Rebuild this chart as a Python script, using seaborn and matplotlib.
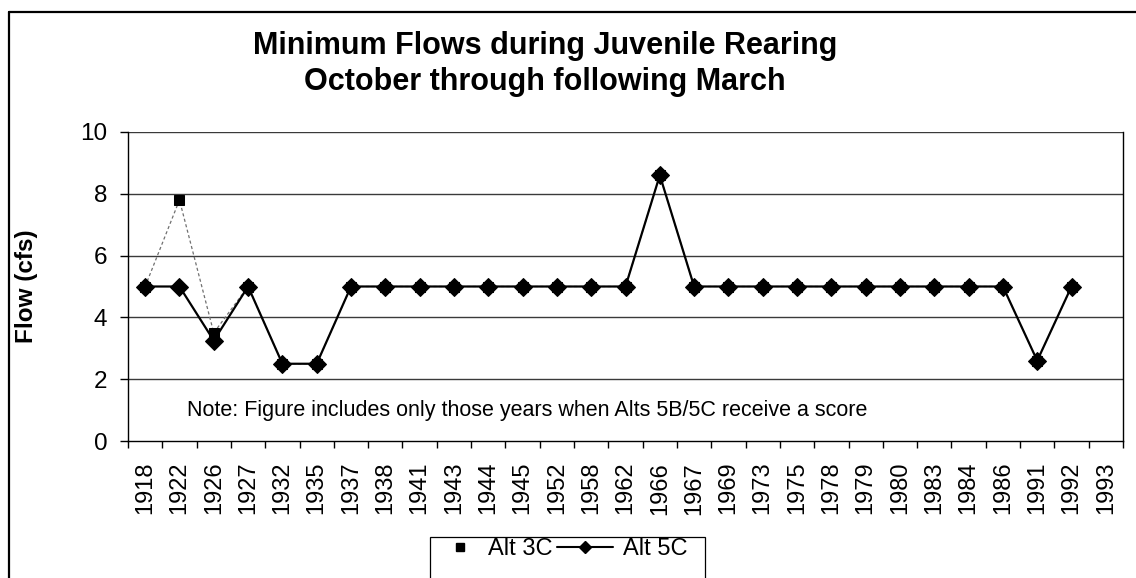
import numpy as np
import pandas as pd
import matplotlib
matplotlib.use("Agg")
import matplotlib.pyplot as plt
from matplotlib.lines import Line2D
from matplotlib.patches import Rectangle
import seaborn as sns

# Water years shown on the category axis
years = ["1918", "1922", "1926", "1927", "1932", "1935", "1937", "1938", "1941",
         "1943", "1944", "1945", "1952", "1958", "1962", "1966", "1967", "1969",
         "1973", "1975", "1978", "1979", "1980", "1983", "1984", "1986", "1991",
         "1992", "1993"]

# Minimum flow (cfs), October through following March
alt_3c = [5.0, 7.8, 3.5, 5.0, 2.5, 2.5, 5.0, 5.0, 5.0, 5.0, 5.0, 5.0, 5.0, 5.0,
          5.0, 8.6, 5.0, 5.0, 5.0, 5.0, 5.0, 5.0, 5.0, 5.0, 5.0, 5.0, 2.6, 5.0,
          np.nan]
alt_5c = [5.0, 5.0, 3.25, 5.0, 2.5, 2.5, 5.0, 5.0, 5.0, 5.0, 5.0, 5.0, 5.0, 5.0,
          5.0, 8.6, 5.0, 5.0, 5.0, 5.0, 5.0, 5.0, 5.0, 5.0, 5.0, 5.0, 2.6, 5.0,
          np.nan]

y_ticks = [0, 2, 4, 6, 8, 10]

sns.set_theme(style="white")
plt.rcParams["font.family"] = ["Liberation Sans", "DejaVu Sans"]
plt.rcParams["text.color"] = "black"
plt.rcParams["axes.labelcolor"] = "black"
plt.rcParams["xtick.color"] = "black"
plt.rcParams["ytick.color"] = "black"

W, H = 1136, 578
fig = plt.figure(figsize=(W / 100, H / 100), dpi=100)
fig.patch.set_facecolor("white")

x0, x1, ytop, ybot = 128, 1123, 132, 441
ax = fig.add_axes([x0 / W, 1 - ybot / H, (x1 - x0) / W, (ybot - ytop) / H])
ax.set_facecolor("white")

pos = np.arange(len(years))
df = pd.DataFrame({"pos": pos, "Alt 3C": alt_3c, "Alt 5C": alt_5c})

# horizontal gridlines
for v in y_ticks[1:]:
    ax.axhline(v, color="#3a3a3a", lw=1.0, zorder=0)

sns.lineplot(data=df, x="pos", y="Alt 3C", ax=ax, color="#707070", lw=0.9,
             linestyle=(0, (2.5, 2)), marker="s", markersize=7.5,
             markerfacecolor="black", markeredgecolor="black",
             estimator=None, legend=False, zorder=3)
sns.lineplot(data=df, x="pos", y="Alt 5C", ax=ax, color="black", lw=1.6,
             marker="D", markersize=9, markerfacecolor="black",
             markeredgecolor="black", estimator=None, legend=False, zorder=4)

ax.set_xlim(-0.5, len(years) - 0.5)
ax.set_ylim(0, 10)
ax.set_yticks(y_ticks)
ax.set_yticklabels([str(v) for v in y_ticks])
ax.set_xticks(pos)
ax.set_xticklabels(years, rotation=90)
ax.set_xticks(np.arange(len(years) + 1) - 0.5, minor=True)
ax.tick_params(axis="x", which="major", length=0, pad=15, labelsize=17)
ax.tick_params(axis="x", which="minor", length=5, width=1, color="black",
               direction="out", bottom=True)
ax.tick_params(axis="y", which="major", length=6, width=1, color="black",
               direction="out", left=True, pad=9, labelsize=17.5)

for side in ["left", "bottom", "right"]:
    ax.spines[side].set_visible(True)
    ax.spines[side].set_color("black")
    ax.spines[side].set_linewidth(1.0)
ax.spines["top"].set_visible(False)

ax.set_xlabel("")
ax.set_ylabel("Flow (cfs)", fontsize=17.5, fontweight="bold", labelpad=30)

ax.text(0.059, 0.1, "Note: Figure includes only those years when Alts 5B/5C receive a score",
        transform=ax.transAxes, fontsize=15.5, va="center", ha="left")

fig.text(545 / W, 1 - 46 / H, "Minimum Flows during Juvenile Rearing",
         ha="center", va="center", fontsize=22, fontweight="bold")
fig.text(545 / W, 1 - 82 / H, "October through following March",
         ha="center", va="center", fontsize=22, fontweight="bold")

# outer chart frame (top and left edges)
fig.add_artist(Line2D([9 / W, 1], [1 - 12 / H, 1 - 12 / H], color="black", lw=1.6))
fig.add_artist(Line2D([9 / W, 9 / W], [0, 1 - 12 / H], color="black", lw=1.6))

# legend: one entry per series so each keeps its own key width
leg_y = 1 - 549 / H
fig.legend([Line2D([], [], linestyle="none", marker="s", markersize=6,
                   color="black")], ["Alt 3C"],
           loc="center left", bbox_to_anchor=(450 / W, leg_y),
           frameon=False, fontsize=17, handlelength=0.85,
           handletextpad=0.76, borderpad=0.0, borderaxespad=0.0)
fig.legend([Line2D([], [], color="black", lw=1.5, marker="D", markersize=6)],
           ["Alt 5C"], loc="center left", bbox_to_anchor=(557 / W, leg_y),
           frameon=False, fontsize=17, handlelength=2.37, handletextpad=0.42,
           borderpad=0.0, borderaxespad=0.0)
fig.add_artist(Rectangle((430 / W, -0.05), (705 - 430) / W, 0.05 + (578 - 537) / H,
                         transform=fig.transFigure, fill=False,
                         edgecolor="black", lw=0.9))

fig.savefig("out.png", dpi=100, facecolor="white")
